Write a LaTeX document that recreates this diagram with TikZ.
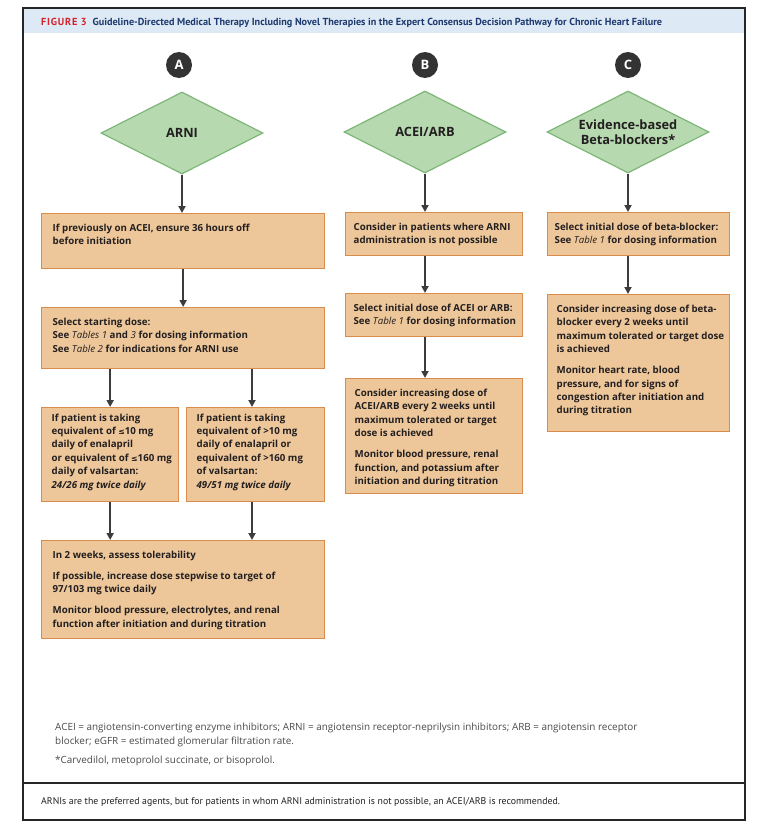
\documentclass[tikz,border=0pt]{standalone}
\usepackage{fontspec}
\setmainfont{Open Sans}
\newfontfamily\ptsans{PT Sans}
\newfontfamily\symfont{DejaVu Sans}[Scale=0.8]
\usetikzlibrary{shapes.geometric,arrows.meta}
\definecolor{boxfill}{HTML}{EDC79A}
\definecolor{boxline}{HTML}{D98C4B}
\definecolor{dmdfill}{HTML}{B6D9B0}
\definecolor{dmdline}{HTML}{7DB679}
\definecolor{ink}{HTML}{231F20}
\definecolor{arrowc}{HTML}{3C3C3C}
\definecolor{badge}{HTML}{333333}
\definecolor{band}{HTML}{DDE9F5}
\definecolor{figred}{HTML}{D2232A}
\definecolor{figblue}{HTML}{1E3A6E}
\definecolor{notec}{HTML}{4A4A4A}
% box contents: [left pad], width, height, text
\newcommand{\inbox}[4][11]{\parbox[t][#3pt][t]{#2pt}{\raggedright\leftskip=#1pt\rightskip=0pt plus 1fil minus 20pt\setlength{\parskip}{7.5pt}#4}}
\newcommand{\tref}[1]{{\mdseries\itshape #1}}
\newcommand{\lesym}{{\symfont ≤}}
\tikzset{
  box/.style={draw=boxline, fill=boxfill, line width=1.3pt, anchor=north west,
    inner xsep=0pt, inner ysep=10.5pt, text=ink, font=\fontsize{9.7}{13.4}\selectfont\bfseries},
  dmd/.style={diamond, aspect=2, draw=dmdline, fill=dmdfill, line width=1.2pt,
    minimum width=162pt, minimum height=82pt, inner sep=0pt, align=center, text=ink,
    font=\fontsize{12.8}{14.8}\selectfont\bfseries},
  badgenode/.style={circle, fill=badge, text=white, minimum size=26pt, inner sep=0pt,
    font=\fontsize{13}{13}\selectfont\bfseries},
  arr/.style={-{Triangle[length=7pt,width=7pt]}, line width=1.8pt, draw=arrowc},
  note/.style={inner sep=0pt, align=left, text=notec, font=\fontsize{9.9}{14}\selectfont}
}
\begin{document}
\begin{tikzpicture}[x=1pt,y=-1pt]
\useasboundingbox (0,0) rectangle (760,827);
% frame and title band
\fill[band] (23,8) rectangle (745,33);
\draw[line width=1.3pt, draw=black!85] (23,8) rectangle (745,820);
\draw[line width=2pt, draw=black!85] (23,783) -- (745,783);
\node[anchor=base west, inner sep=0pt, font=\ptsans\bfseries\fontsize{10.2}{12}\selectfont] (title) at (41,25)
  {\textcolor{figred}{\addfontfeatures{LetterSpace=8}FIGURE 3}\hspace{6pt}\textcolor{figblue}{Guideline-Directed Medical Therapy Including Novel Therapies in the Expert Consensus Decision Pathway for Chronic Heart Failure}};

% column badges and diamonds
\node[badgenode] (ca) at (179,65) {A};
\node[badgenode] (cb) at (425,65) {B};
\node[badgenode] (cc) at (628,65) {C};
\node[dmd] (da) at (182,133) {ARNI};
\node[dmd] (db) at (425,132) {ACEI/ARB};
\node[dmd] (dc) at (628,132) {Evidence-based\\Beta-blockers*};

% column A
\node[box] (a1) at (41,213) {\inbox{283}{34}{If previously on ACEI, ensure 36 hours off\\before initiation}};
\node[box] (a2) at (41,307) {\inbox{283}{40}{Select starting dose:\\See \tref{Tables 1} and \tref{3} for dosing information\\See \tref{Table 2} for indications for ARNI use}};
\node[box, inner ysep=6pt] (a3) at (41,407) {\inbox[10]{137}{82}{If patient is taking\\equivalent of \lesym10 mg\\daily of enalapril\\or equivalent of \lesym160 mg\\daily of valsartan:\\\textit{24/26 mg twice daily}}};
\node[box, inner ysep=6pt] (a4) at (186,407) {\inbox[10]{138}{82}{If patient is taking\\equivalent of >10 mg\\daily of enalapril or\\equivalent of >160 mg\\of valsartan:\\\textit{49/51 mg twice daily}}};
\node[box] (a5) at (41,540) {\inbox{283}{77}{In 2 weeks, assess tolerability\par
  If possible, increase dose stepwise to target of\\97/103 mg twice daily\par
  Monitor blood pressure, electrolytes, and renal\\function after initiation and during titration}};

% column B
\node[box] (b1) at (345,212) {\inbox[8]{177}{22}{Consider in patients where ARNI\\administration is not possible}};
\node[box] (b2) at (345,293) {\inbox[8]{177}{22}{Select initial dose of ACEI or ARB:\\See \tref{Table 1} for dosing information}};
\node[box] (b3) at (345,378) {\inbox[9]{177}{94}{Consider increasing dose of\\ACEI/ARB every 2 weeks until\\maximum tolerated or target\\dose is achieved\par
  Monitor blood pressure, renal\\function, and potassium after\\initiation and during titration}};

% column C
\node[box] (c1) at (547,212) {\inbox[7]{182}{22}{Select initial dose of beta-blocker:\\See \tref{Table 1} for dosing information}};
\node[box] (c2) at (547,294) {\inbox[9]{182}{116}{Consider increasing dose of beta-\\blocker every 2 weeks until\\maximum tolerated or target dose\\is achieved\par
  Monitor heart rate, blood\\pressure, and for signs of\\congestion after initiation and\\during titration}};

% connectors
\draw[arr] (da.south) -- (da.south |- a1.north);
\draw[arr] (a1.south) -- (a2.north);
\draw[arr] (a3.north |- a2.south) -- (a3.north);
\draw[arr] (a2.south -| 252,0) -- (a4.north -| 252,0);
\draw[arr] (a3.south) -- (a3.south |- a5.north);
\draw[arr] (a4.south -| 252,0) -- (a5.north -| 252,0);
\draw[arr] (db.south) -- (db.south |- b1.north);
\draw[arr] (db.south |- b1.south) -- (db.south |- b2.north);
\draw[arr] (db.south |- b2.south) -- (db.south |- b3.north);
\draw[arr] (dc.south) -- (dc.south |- c1.north);
\draw[arr] (dc.south |- c1.south) -- (dc.south |- c2.north);

% notes
\node[note, anchor=north west] (abbr) at (55,722.5) {ACEI = angiotensin-converting enzyme inhibitors; ARNI = angiotensin receptor-neprilysin inhibitors; ARB = angiotensin receptor\\blocker; eGFR = estimated glomerular filtration rate.};
\node[note, anchor=base west] (star) at (55,763) {*Carvedilol, metoprolol succinate, or bisoprolol.};
\node[anchor=base west, inner sep=0pt, text=ink, font=\ptsans\fontsize{9.8}{11}\selectfont] (foot) at (41,804)
  {ARNIs are the preferred agents, but for patients in whom ARNI administration is not possible, an ACEI/ARB is recommended.};
\end{tikzpicture}
\end{document}
